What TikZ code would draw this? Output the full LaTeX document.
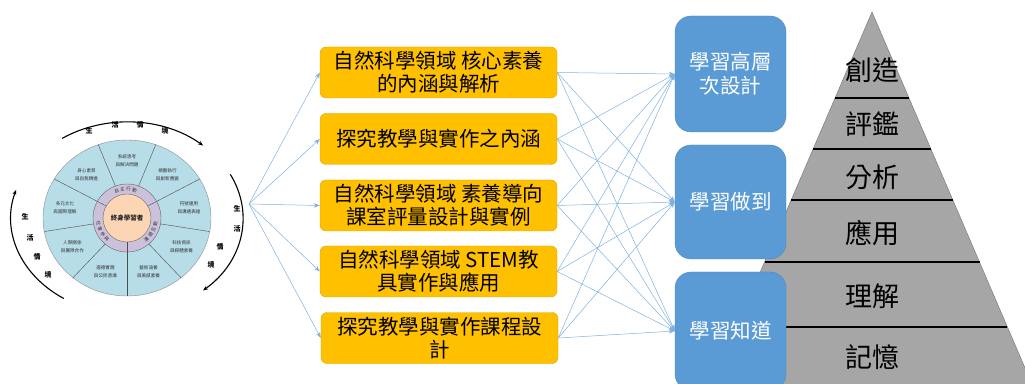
\documentclass[tikz,border=0pt]{standalone}
\usepackage{fontspec}
\newfontfamily\cjk{Noto Sans CJK TC}
\usetikzlibrary{arrows.meta,calc}
\definecolor{boxorange}{HTML}{FFC000}
\definecolor{boxorangeline}{HTML}{DDA600}
\definecolor{boxblue}{HTML}{5B9BD5}
\definecolor{boxblueline}{HTML}{4A86C0}
\definecolor{linkblue}{HTML}{7FB0E2}
\definecolor{pyrgray}{HTML}{A6A6A6}
\definecolor{wheelblue}{HTML}{B7DDE8}
\definecolor{wheelpurple}{HTML}{CCC1DA}
\definecolor{wheelorange}{HTML}{FCD5B5}
\tikzset{
  topic/.style={draw=boxorangeline, fill=boxorange, rounded corners=6pt,
    minimum width=237pt, minimum height=51pt, inner sep=0pt, align=center,
    font=\cjk\fontsize{20.5}{23}\selectfont},
  goal/.style={draw=boxblueline, fill=boxblue, rounded corners=16pt,
    minimum width=111pt, inner sep=0pt, align=center, text=white,
    font=\cjk\fontsize{20.5}{24}\selectfont},
  link/.style={draw=linkblue, line width=0.5pt, -{Stealth[length=6pt,width=4.5pt]}},
  wedge/.style={font=\cjk\fontsize{4.6}{8}\selectfont, align=center, text=black!80, inner sep=0pt},
  ringtext/.style={font=\cjk\fontsize{4.6}{4.6}\selectfont, text=black!80, inner sep=0pt},
  life/.style={font=\cjk\bfseries\fontsize{7}{7}\selectfont, inner sep=0pt},
  lifearc/.style={line width=1.1pt, -{Stealth[length=5pt,width=4pt]}},
  wheelline/.style={draw=black!70, line width=0.4pt},
  level/.style={font=\cjk\fontsize{27}{27}\selectfont, inner sep=0pt},
}
\begin{document}
\begin{tikzpicture}[x=1pt,y=1pt]
  \useasboundingbox (0,0) rectangle (1025,383);
  \clip (0,0) rectangle (1025,383);

  % wheel of core competencies
  \coordinate (c) at (127,165);
  \filldraw[fill=wheelblue, draw=black!45] (c) ellipse [x radius=84, y radius=78];
  \filldraw[fill=wheelpurple, draw=black!60] (c) circle [radius=34];
  \foreach \a in {110,70,-10,-50,-130,-170}
    \draw[wheelline] ($(c)+(\a:34)$) -- ($(c)+(\a:84 and 78)$);
  \foreach \a in {30,150,270}
    \draw[wheelline] ($(c)+(\a:24)$) -- ($(c)+(\a:84 and 78)$);
  \filldraw[fill=wheelorange, draw=black!60] (c) circle [radius=24];
  \foreach \a/\t in {90/系統思考\\與解決問題, 50/規劃執行\\與創新應變, 10/符號運用\\與溝通表達,
                     -30/科技資訊\\與媒體素養, -70/藝術涵養\\與美感素養, -110/道德實踐\\與公民意識,
                     -150/人際關係\\與團隊合作, 170/多元文化\\與國際理解, 130/身心素質\\與自我精進}
    \node[wedge] at ($(c)+(\a:63 and 57)$) {\t};
  % ring texts, one character at a time
  \foreach \ch [count=\i, evaluate=\i as \a using 123-12*\i] in {自,主,行,動}
    \node[ringtext, rotate=\a-90] at ($(c)+(\a:29)$) {\ch};
  \foreach \ch [count=\i, evaluate=\i as \a using -60+12*\i] in {溝,通,互,動}
    \node[ringtext, rotate=\a+90] at ($(c)+(\a:29)$) {\ch};
  \foreach \ch [count=\i, evaluate=\i as \a using 178+12*\i] in {社,會,參,與}
    \node[ringtext, rotate=\a+90] at ($(c)+(\a:29)$) {\ch};
  \node[font=\cjk\bfseries\fontsize{6.5}{6.5}\selectfont, text=black!85] (core) at (c) {終身學習者};

  % life situation arcs
  \draw[lifearc] ($(c)+(124:116 and 96)$) arc[start angle=124, end angle=49, x radius=116, y radius=96];
  \draw[lifearc] ($(c)+(27:116 and 96)$) arc[start angle=27, end angle=-49, x radius=116, y radius=96];
  \draw[lifearc] ($(c)+(237:116 and 96)$) arc[start angle=237, end angle=163, x radius=116, y radius=96];
  \foreach \p/\t in {{(89,252)}/生, {(115,258)}/活, {(140,258)}/情, {(165,252)}/境,
                     {(237,174)}/生, {(237,154)}/活, {(220,136)}/情, {(211,118)}/境,
                     {(25,166)}/生, {(30,145)}/活, {(37,126)}/情, {(48,108)}/境}
    \node[life] at \p {\t};

  % topics
  \coordinate (fan) at (249,179);
  \node[topic] (t1) at (438.5,310.5) {自然科學領域 核心素養\\的內涵與解析};
  \node[topic] (t2) at (438.5,244) {探究教學與實作之內涵};
  \node[topic] (t3) at (438.5,177.5) {自然科學領域 素養導向\\課室評量設計與實例};
  \node[topic] (t4) at (438.5,111.5) {自然科學領域 STEM教\\具實作與應用};
  \node[topic] (t5) at (439.5,45) {探究教學與實作課程設\\計};
  \foreach \i in {1,...,5}
    \draw[link] (fan) -- (t\i.west);

  % pyramid
  \filldraw[fill=pyrgray, draw=black!55] (872,371) -- (708.2,-10) -- (1035.8,-10) -- cycle;
  \foreach \Y in {285,234,183,121,56} {
    \pgfmathsetmacro\hw{(371-\Y)*0.43}
    \draw[line width=2.5pt] ({872-\hw},\Y) -- ({872+\hw},\Y);
  }
  \foreach \Y/\t in {313/創造, 259/評鑑, 206/分析, 150/應用, 87/理解, 26/記憶}
    \node[level] at (872,\Y) {\t};

  % goals
  \node[goal, minimum height=116pt] (g1) at (730.5,309) {學習高層\\次設計};
  \node[goal, minimum height=114pt] (g2) at (730.5,181) {學習做到};
  \node[goal, minimum height=118pt] (g3) at (730.5,52) {學習知道};
  \foreach \i in {1,...,5}
    \foreach \j in {1,2,3}
      \draw[link] (t\i.east) -- (g\j.west);
\end{tikzpicture}
\end{document}
